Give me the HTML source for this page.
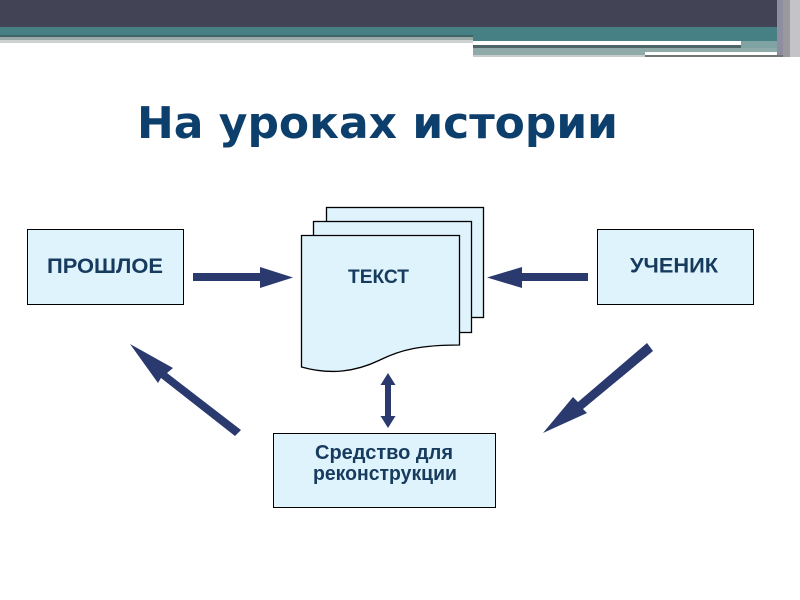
<!DOCTYPE html>
<html><head><meta charset="utf-8"><style>
html,body{margin:0;padding:0;background:#fff;}
svg{display:block;}
</style></head><body>
<svg width="800" height="600" viewBox="0 0 800 600" xmlns="http://www.w3.org/2000/svg">
<!-- header -->
<rect x="0" y="0" width="800" height="27" fill="#434356"/>
<rect x="0" y="27" width="473" height="8" fill="#468084"/>
<rect x="0" y="35" width="473" height="2" fill="#3e6668"/>
<rect x="0" y="37" width="473" height="3" fill="#9aa8a8"/>
<rect x="0" y="40" width="473" height="3" fill="#cdd2d2"/>
<rect x="473" y="27" width="310" height="14" fill="#468084"/>
<rect x="473" y="41" width="268" height="4" fill="#ffffff"/>
<rect x="473" y="45" width="268" height="3" fill="#4e6466"/>
<rect x="741" y="41" width="42" height="7" fill="#7fa3a3"/>
<rect x="473" y="48" width="312" height="7" fill="#8eaaa9"/>
<rect x="645" y="52" width="140" height="3" fill="#ffffff"/>
<rect x="645" y="55" width="145" height="2" fill="#6f7474"/>
<rect x="473" y="55" width="172" height="2" fill="#c6cccc"/>
<rect x="777" y="0" width="6" height="55" fill="#8e8ea0"/>
<rect x="783" y="0" width="7" height="57" fill="#9a9a9e"/>
<rect x="790" y="0" width="10" height="57" fill="#c4c4c6"/>

<!-- title -->
<text x="137" y="138" font-family="DejaVu Sans, sans-serif" font-weight="bold" font-size="44" fill="#0d3f6d" textLength="481" lengthAdjust="spacingAndGlyphs">На уроках истории</text>

<!-- boxes -->
<rect x="27.5" y="229.5" width="156" height="75" fill="#dff3fc" stroke="#000" stroke-width="1"/>
<text x="47" y="273" font-family="Liberation Sans, sans-serif" font-weight="bold" font-size="21" fill="#163b5e" textLength="116" lengthAdjust="spacingAndGlyphs">ПРОШЛОЕ</text>

<rect x="597.5" y="229.5" width="156" height="75" fill="#dff3fc" stroke="#000" stroke-width="1"/>
<text x="630" y="272.5" font-family="Liberation Sans, sans-serif" font-weight="bold" font-size="21" fill="#163b5e" textLength="88" lengthAdjust="spacingAndGlyphs">УЧЕНИК</text>

<rect x="273.5" y="433.5" width="222" height="74" fill="#dff3fc" stroke="#000" stroke-width="1"/>
<text x="315" y="459" font-family="Liberation Sans, sans-serif" font-weight="bold" font-size="20.5" fill="#163b5e" textLength="138" lengthAdjust="spacingAndGlyphs">Средство для</text>
<text x="313" y="480" font-family="Liberation Sans, sans-serif" font-weight="bold" font-size="20.5" fill="#163b5e" textLength="144" lengthAdjust="spacingAndGlyphs">реконструкции</text>

<!-- document stack -->
<rect x="326.5" y="207.5" width="157" height="110" fill="#dff3fc" stroke="#000" stroke-width="1.3"/>
<rect x="313.5" y="221.5" width="158" height="111" fill="#dff3fc" stroke="#000" stroke-width="1.3"/>
<path d="M301.5 235.5 H459.5 V345 C420 345 400 350 380 360 C355 372 330 375 301.5 367 Z" fill="#dff3fc" stroke="#000" stroke-width="1.3"/>
<text x="348" y="283" font-family="Liberation Sans, sans-serif" font-weight="bold" font-size="19" fill="#163b5e" textLength="61" lengthAdjust="spacingAndGlyphs">ТЕКСТ</text>

<!-- arrows -->
<g fill="#2a3a6e">
  <polygon points="193,273 260,273 260,267 293,277.5 260,288 260,281 193,281"/>
  <polygon points="588,273 522,273 522,267 487,277.5 522,288 522,281 588,281"/>
  <polygon points="388,373 395.5,385 391,385 391,416 395.5,416 388,428 380.5,416 385,416 385,385 380.5,385"/>
  <polygon points="130,344 173,368 167,373 241,430 235,436 161,378 158,383"/>
  <polygon points="543,433 573,397 578,402 647,343 653,351 583,409 587,413"/>
</g>
</svg>
</body></html>
